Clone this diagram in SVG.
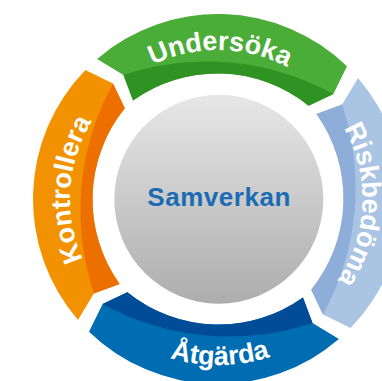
<svg xmlns="http://www.w3.org/2000/svg" width="382" height="381" viewBox="0 0 382 381">
  <style>
    .lbl { font-family: "Liberation Sans", Arial, sans-serif; font-weight: bold; font-size: 27px; fill: #ffffff; }
    .center-lbl { font-family: "Liberation Sans", Arial, sans-serif; font-weight: bold; font-size: 26px; fill: #1a6db5; }
  </style>
  <defs>
    <linearGradient id="gray" x1="0" y1="0" x2="0" y2="1">
      <stop offset="0" stop-color="#e7e7e7"/>
      <stop offset="1" stop-color="#adadad"/>
    </linearGradient>
    <path id="p-und" d="M78.7,146.1 A149,149 0 0 1 358.7,150.0"/>
    <path id="p-kon" d="M158.5,334.5 A148,148 0 0 1 176.5,56.9"/>
    <path id="p-risk" d="M273.0,65.4 A144.5,144.5 0 0 1 261.8,336.7"/>
    <path id="p-atg" d="M62.7,257.7 A166,166 0 0 0 374.7,253.9"/>
  </defs>
  <rect width="382" height="381" fill="#ffffff"/>

  <g id="connectors"></g>

  <g id="node-undersoka">
    <path fill="#4aad37" d="M97.12,58.95 A185,185 0 0 1 346.98,66.37 L333.38,94.01 L308.64,105.80 A145,145 0 0 0 133.06,100.59 L123.46,74.90 Z"/>
    <path fill="#2e9323" d="M123.46,74.90 L133.06,100.59 A145,145 0 0 1 308.64,105.80 L333.38,94.01 A263,263 0 0 0 123.46,74.90 Z"/>
    <text class="lbl"><textPath href="#p-und" startOffset="50%" text-anchor="middle">Undersöka</textPath></text>
  </g>

  <g id="node-riskbedoma">
    <path fill="#aac4e4" d="M358.05,78.12 A185,185 0 0 1 350.63,327.98 L322.99,314.38 L311.20,289.64 A145,145 0 0 0 316.41,114.06 L342.10,104.46 Z"/>
    <path fill="#8eaed9" d="M342.10,104.46 L316.41,114.06 A145,145 0 0 1 311.20,289.64 L322.99,314.38 A263,263 0 0 0 342.10,104.46 Z"/>
    <text class="lbl"><textPath href="#p-risk" startOffset="50%" text-anchor="middle">Riskbedöma</textPath></text>
  </g>

  <g id="node-atgarda">
    <path fill="#006cb1" d="M338.88,339.05 A185,185 0 0 1 89.02,331.63 L102.62,303.99 L127.36,292.20 A145,145 0 0 0 302.94,297.41 L312.54,323.10 Z"/>
    <path fill="#004c96" d="M312.54,323.10 L302.94,297.41 A145,145 0 0 1 127.36,292.20 L102.62,303.99 A263,263 0 0 0 312.54,323.10 Z"/>
    <text class="lbl"><textPath href="#p-atg" startOffset="50%" text-anchor="middle">Åtgärda</textPath></text>
  </g>

  <g id="node-kontrollera">
    <path fill="#f39200" d="M77.95,319.88 A185,185 0 0 1 85.37,70.02 L113.01,83.62 L124.80,108.36 A145,145 0 0 0 119.59,283.94 L93.90,293.54 Z"/>
    <path fill="#ec6f00" d="M93.90,293.54 L119.59,283.94 A145,145 0 0 1 124.80,108.36 L113.01,83.62 A263,263 0 0 0 93.90,293.54 Z"/>
    <text class="lbl"><textPath href="#p-kon" startOffset="50%" text-anchor="middle">Kontrollera</textPath></text>
  </g>

  <g id="node-samverkan">
    <circle cx="218.8" cy="199.2" r="104.5" fill="url(#gray)"/>
    <text class="center-lbl" x="218.8" y="205.5" text-anchor="middle" textLength="143" lengthAdjust="spacing">Samverkan</text>
  </g>
</svg>
